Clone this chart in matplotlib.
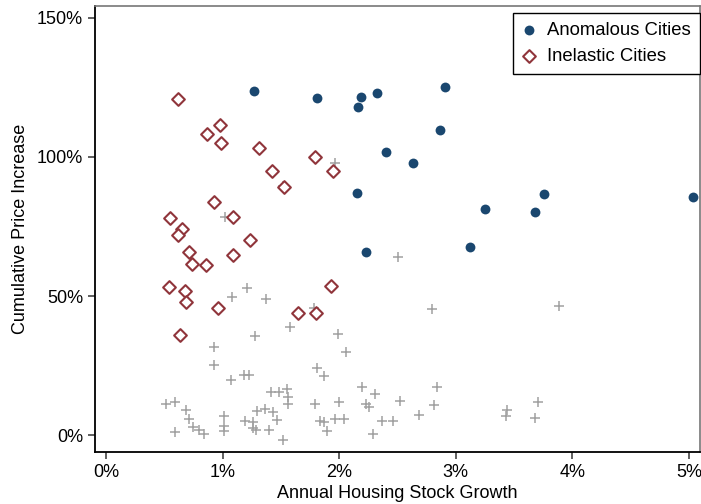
import matplotlib.pyplot as plt
from matplotlib.ticker import FuncFormatter

plt.rcParams['font.family'] = ['Liberation Sans Narrow', 'Liberation Sans', 'DejaVu Sans']

# 异常城市 (growth %, price increase %)
anom_x = [1.27, 1.81, 2.164, 2.19, 2.327, 2.40, 2.15, 2.91, 2.867, 2.633,
          3.248, 3.677, 3.756, 5.037, 2.23, 3.119]
anom_y = [123.7, 121.0, 118.0, 121.7, 122.8, 101.7, 86.9, 125.0, 109.8, 97.8,
          81.4, 80.3, 86.6, 85.7, 66.0, 67.8]

# 无弹性城市
inel_x = [0.615, 0.978, 0.863, 0.983, 1.315, 1.79, 1.944, 1.421, 1.53, 0.929,
          1.087, 0.549, 0.649, 0.62, 1.232, 0.715, 0.74, 0.86, 1.087, 0.54,
          0.678, 0.689, 0.963, 1.927, 1.65, 1.80, 0.635]
inel_y = [120.7, 111.6, 108.1, 105.1, 103.2, 100.0, 94.8, 94.8, 89.3, 83.9,
          78.5, 78.0, 74.0, 72.0, 70.3, 66.0, 61.7, 61.1, 64.7, 53.4,
          52.0, 47.9, 45.8, 53.5, 44.0, 43.8, 36.1]

# 其他城市
other_x = [1.961, 1.52, 1.023, 2.50, 1.212, 1.08, 1.372, 1.784, 1.578, 1.28,
           1.992, 2.058, 0.926, 0.926, 1.81, 1.872, 1.072, 1.18, 1.229, 2.195,
           2.31, 1.415, 1.481, 1.555, 1.561, 1.561, 0.515, 0.594, 0.689, 0.709,
           0.746, 0.795, 0.838, 0.594, 1.009, 1.009, 1.009, 1.192, 1.258, 1.258,
           1.283, 1.295, 1.366, 1.435, 1.464, 1.395, 1.515, 1.79, 1.835, 1.872,
           1.893, 2.0, 1.964, 2.041, 2.227, 2.258, 2.29, 2.364, 2.459, 2.52,
           2.799, 3.888, 2.836, 2.816, 2.687, 3.436, 3.43, 3.708, 3.679]
other_y = [97.7, 89.6, 78.3, 64.2, 52.8, 49.7, 48.9, 45.6, 38.9, 35.6,
           36.5, 30.0, 31.7, 25.2, 24.3, 21.4, 19.8, 21.7, 21.8, 17.4,
           14.8, 15.6, 15.4, 16.6, 13.8, 11.4, 11.2, 11.9, 9.2, 6.0,
           2.9, 2.0, 0.5, 1.1, 6.8, 3.2, 1.4, 5.3, 4.6, 2.6,
           1.9, 8.7, 9.6, 8.2, 5.6, 1.9, -1.6, 11.3, 5.3, 4.6,
           1.5, 12.0, 6.0, 6.0, 11.3, 10.2, 0.3, 5.2, 5.2, 12.4,
           45.4, 46.4, 17.5, 10.8, 7.4, 9.2, 7.0, 11.9, 6.2]

fig = plt.figure(figsize=(7.01, 5.04), dpi=100)
ax = fig.add_axes([0.1355, 0.1032, 0.8631, 0.8848])

ax.scatter(other_x, other_y, marker='+', s=60, color='#a0a0a0', linewidths=1.1, zorder=2)
ax.scatter(inel_x, inel_y, marker='D', s=42, facecolor='white', edgecolor='#90353b',
           linewidths=1.5, zorder=3, label='Inelastic Cities')
ax.scatter(anom_x, anom_y, marker='o', s=50, color='#1a476f', linewidths=0,
           zorder=4, label='Anomalous Cities')

ax.set_xlim(-0.094, 5.094)
ax.set_ylim(-6, 154.2)
ax.set_xticks([0, 1, 2, 3, 4, 5])
ax.set_yticks([0, 50, 100, 150])
ax.xaxis.set_major_formatter(FuncFormatter(lambda v, p: f'{v:.0f}%'))
ax.yaxis.set_major_formatter(FuncFormatter(lambda v, p: f'{v:.0f}%'))
ax.tick_params(direction='out', length=5, width=1.2, labelsize=13,
               color='#444444', labelcolor='black')

for s in ['left', 'bottom']:
    ax.spines[s].set_color('black')
    ax.spines[s].set_linewidth(1.3)
for s in ['top', 'right']:
    ax.spines[s].set_color('#777777')
    ax.spines[s].set_linewidth(1.2)

ax.set_xlabel('Annual Housing Stock Growth', fontsize=13, labelpad=3)
ax.set_ylabel('Cumulative Price Increase', fontsize=13, labelpad=6)

handles, labels = ax.get_legend_handles_labels()
leg = ax.legend(handles[::-1], labels[::-1], loc='upper right',
                bbox_to_anchor=(700 / 701, (504 - 13) / 504),
                bbox_transform=fig.transFigure, borderaxespad=0,
                prop={'size': 13.3},
                frameon=True, fancybox=False, edgecolor='black', framealpha=1,
                handletextpad=0.55, handlelength=0.8,
                borderpad=0.5, labelspacing=0.45)
leg.get_frame().set_linewidth(1.0)

plt.savefig('out.png', dpi=100)
